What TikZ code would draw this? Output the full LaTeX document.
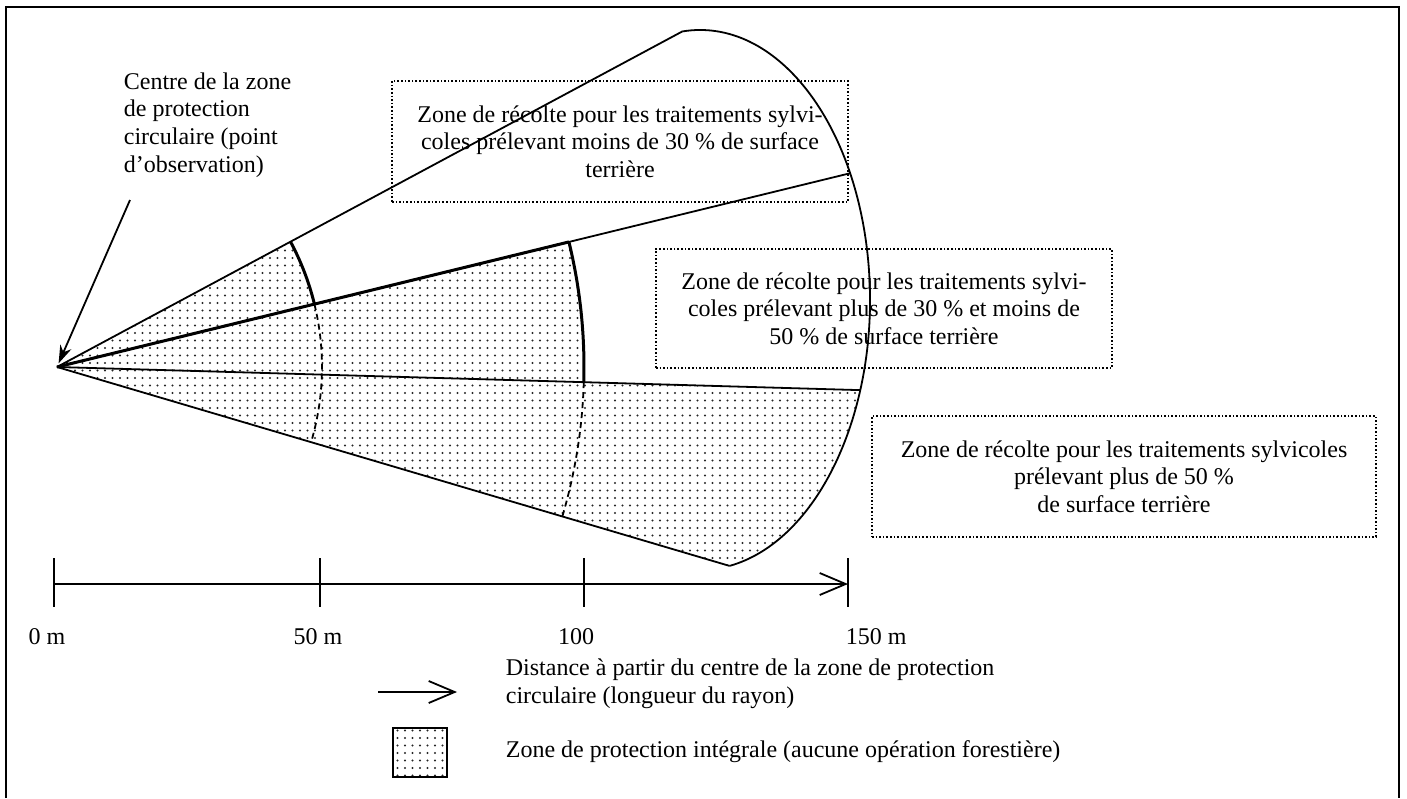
\documentclass[tikz,border=0pt]{standalone}
\usepackage{fontspec}
\setmainfont{Liberation Serif}
\usetikzlibrary{arrows.meta,patterns.meta,positioning}

\tikzset{
  zonebox/.style={draw, dash pattern=on 0.8pt off 1pt, line width=0.8pt,
    align=center, inner sep=0pt},
  protect/.style={pattern={Dots[distance=3.75pt,radius=0.55pt]},
    pattern color=black!85},
  limit/.style={line width=1.5pt},
  halfway/.style={dash pattern=on 3pt off 2pt, line width=0.9pt},
}

\begin{document}
\begin{tikzpicture}[x=0.5pt, y=-0.5pt, line width=0.9pt,
  >={Straight Barb[length=13pt,width=11pt]},
  every node/.style={font=\fontsize{12}{13.8}\selectfont}]
  \useasboundingbox (0,0) rectangle (1407,798);
  % cadre
  \draw (6,798) -- (6,7) -- (1399,7) -- (1399,798);

  \coordinate (O) at (57,367);
  \coordinate (C) at (700,300);
  \coordinate (e1) at ([shift={(C)}]-96:170 and 270);
  \coordinate (e2) at ([shift={(C)}]-28:170 and 270);
  \coordinate (e3) at ([shift={(C)}]19.5:170 and 270);
  \coordinate (e4) at ([shift={(C)}]80:170 and 270);

  % zones de protection integrale
  \path[protect] (O) -- ++(-28.22:265)
    arc[start angle=-28.22, end angle=-13.73, radius=265] -- cycle;
  \path[protect] (O) -- ++(-13.73:527)
    arc[start angle=-13.73, end angle=1.65, radius=527] -- cycle;
  \path[protect] (O) -- (e3)
    arc[start angle=19.5, end angle=80, x radius=170, y radius=270] -- cycle;

  % rayons et contour
  \draw (O) -- (e1);
  \draw (O) -- (e2);
  \draw (O) -- (e3);
  \draw (O) -- (e4);
  \draw[limit] (O) -- ++(-13.73:527);
  \draw (e1) arc[start angle=-96, end angle=80, x radius=170, y radius=270];

  % limites a 50 m et 100 m
  \draw[limit] (O) ++(-28.22:265) arc[start angle=-28.22, end angle=-13.73, radius=265];
  \draw[limit] (O) ++(-13.73:527) arc[start angle=-13.73, end angle=1.65, radius=527];
  \draw[halfway] (O) ++(-13.73:265) arc[start angle=-13.73, end angle=16.48, radius=265];
  \draw[halfway] (O) ++(1.65:527) arc[start angle=1.65, end angle=16.48, radius=527];

  % point d'observation
  \node[anchor=west, align=left, inner sep=0pt] (centre) at (123,125)
    {Centre de la zone\\de protection\\circulaire (point\\d’observation)};
  \coordinate (p) at (130,200);
  \draw[-{Stealth[length=9pt,width=6pt]}, shorten >=2pt] (p) -- (O);

  % zones de recolte
  \node[zonebox, minimum width=228pt, minimum height=60.5pt] (z1) at (620,141.5)
    {Zone de récolte pour les traitements sylvi-\\coles prélevant moins de 30~\% de surface\\terrière};
  \node[zonebox, minimum width=228pt, minimum height=59.5pt] (z2) at (884,308.5)
    {Zone de récolte pour les traitements sylvi-\\coles prélevant plus de 30~\% et moins de\\50~\% de surface terrière};
  \node[zonebox, minimum width=252pt, minimum height=60.5pt] (z3) at (1124,476.5)
    {Zone de récolte pour les traitements sylvicoles\\prélevant plus de 50~\%\\de surface terrière};

  % echelle
  \coordinate (a0) at (54,584);
  \coordinate (a150) at (848,584);
  \draw[->] (a0) -- (a150);
  \foreach \x in {54,320,584,848}
    \draw (\x,558) -- (\x,607);
  \node (m0) at (47,637) {0 m};
  \node (m50) at (318,637) {50 m};
  \node (m100) at (576,637) {100};
  \node[anchor=west, inner sep=0pt] (m150) at (845,637) {150 m};

  % legende
  \coordinate (l1) at (378,692);
  \coordinate (l2) at (457,692);
  \draw[->] (l1) -- (l2);
  \node[anchor=west, align=left, inner sep=0pt] (dist) at (505,684)
    {Distance à partir du centre de la zone de protection\\circulaire (longueur du rayon)};
  \node[draw, protect, line width=1pt, minimum width=27pt, minimum height=24.5pt] (sq) at (420,752.5) {};
  \node[anchor=west, inner sep=0pt] (integ) at (505,752)
    {Zone de protection intégrale (aucune opération forestière)};
\end{tikzpicture}
\end{document}
